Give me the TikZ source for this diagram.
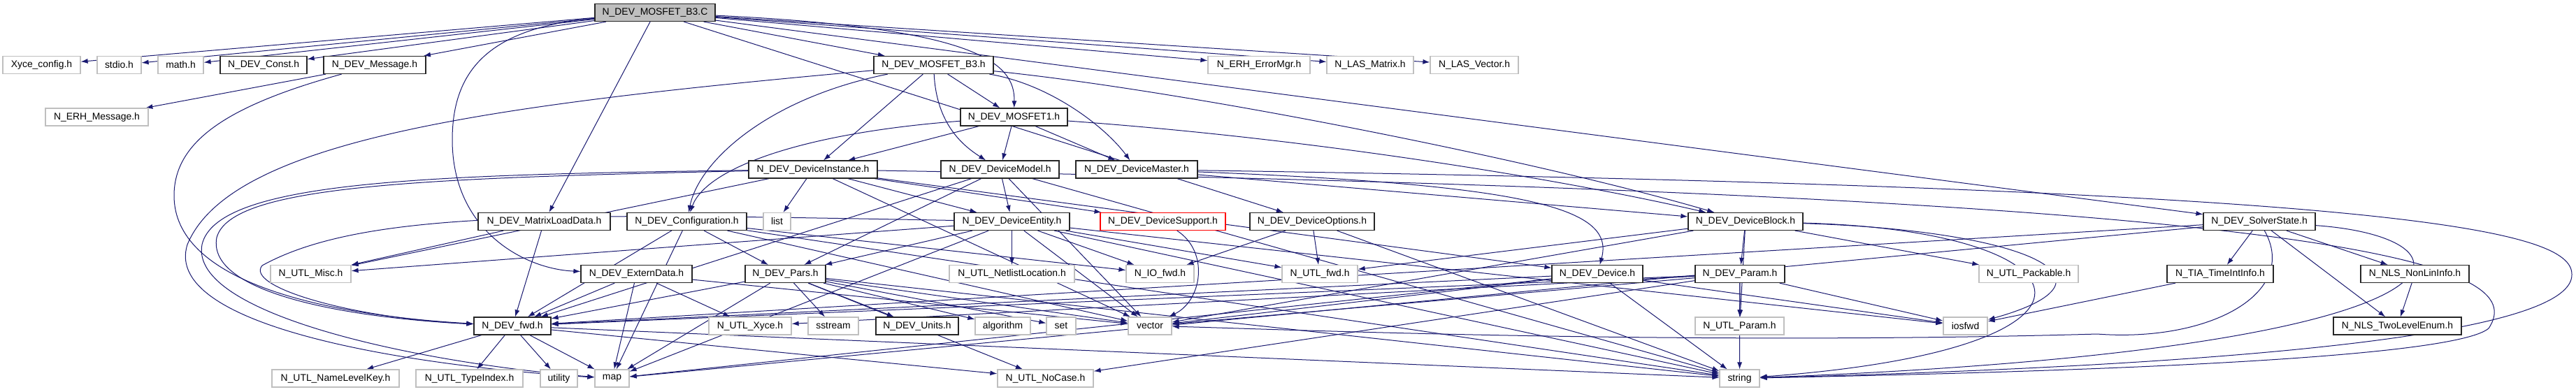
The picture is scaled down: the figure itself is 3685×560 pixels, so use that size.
\documentclass[tikz,border=0pt]{standalone}
\usepackage{fontspec}
\setmainfont{Liberation Sans}
\usetikzlibrary{arrows.meta,backgrounds}
\definecolor{edgeblue}{HTML}{191970}
\definecolor{softgray}{HTML}{BFBFBF}

\begin{document}
\begin{tikzpicture}[
  x=1pt,
  y=-1pt,
  hdr/.style={draw=black!85,line width=1.2pt,fill=white,minimum height=25pt,inner sep=0pt,font=\fontsize{13.9}{16}\selectfont},
  ext/.style={hdr,draw=softgray},
  root/.style={hdr,fill=softgray},
  miss/.style={hdr,draw=red},
  dep/.style={draw=edgeblue,line width=1pt,-{Latex[length=10pt,width=7pt]}}
]
\useasboundingbox (0,0) rectangle (3685,560);
\node[root,minimum width=172pt] (b3c) at (937,18) {N\_DEV\_MOSFET\_B3.C};
\node[ext,minimum width=111pt] (xyce) at (59.5,93) {Xyce\_config.h};
\node[ext,minimum width=63pt] (stdio) at (170.5,93) {stdio.h};
\node[ext,minimum width=65pt] (math) at (258.5,93) {math.h};
\node[hdr,minimum width=124pt] (const) at (377,93) {N\_DEV\_Const.h};
\node[hdr,minimum width=146pt] (msg) at (536,93) {N\_DEV\_Message.h};
\node[hdr,minimum width=171pt] (b3h) at (1335.5,93) {N\_DEV\_MOSFET\_B3.h};
\node[ext,minimum width=146pt] (erherr) at (1801,93) {N\_ERH\_ErrorMgr.h};
\node[ext,minimum width=124pt] (lasmat) at (1960,93) {N\_LAS\_Matrix.h};
\node[ext,minimum width=126pt] (lasvec) at (2109,93) {N\_LAS\_Vector.h};
\node[ext,minimum width=147pt] (erhmsg) at (138.5,167.5) {N\_ERH\_Message.h};
\node[hdr,minimum width=153pt] (mos1) at (1450.5,167.5) {N\_DEV\_MOSFET1.h};
\node[hdr,minimum width=184pt] (devinst) at (1163,242.5) {N\_DEV\_DeviceInstance.h};
\node[hdr,minimum width=169pt] (devmodel) at (1430.5,242.5) {N\_DEV\_DeviceModel.h};
\node[hdr,minimum width=174pt] (devmaster) at (1626,242.5) {N\_DEV\_DeviceMaster.h};
\node[hdr,minimum width=189pt] (mld) at (778.5,317) {N\_DEV\_MatrixLoadData.h};
\node[hdr,minimum width=171pt] (config) at (982.5,317) {N\_DEV\_Configuration.h};
\node[ext,minimum width=39pt] (list) at (1111.5,317) {list};
\node[hdr,minimum width=165pt] (entity) at (1447.5,317) {N\_DEV\_DeviceEntity.h};
\node[miss,minimum width=179pt] (support) at (1663.5,317) {N\_DEV\_DeviceSupport.h};
\node[hdr,minimum width=178pt] (options) at (1877,317) {N\_DEV\_DeviceOptions.h};
\node[hdr,minimum width=164pt] (block) at (2497,317) {N\_DEV\_DeviceBlock.h};
\node[hdr,minimum width=160pt] (solver) at (3232,317) {N\_DEV\_SolverState.h};
\node[ext,minimum width=115pt] (misc) at (444.5,392) {N\_UTL\_Misc.h};
\node[hdr,minimum width=159pt] (extern) at (910.5,392) {N\_DEV\_ExternData.h};
\node[hdr,minimum width=115pt] (pars) at (1123.5,392) {N\_DEV\_Pars.h};
\node[ext,minimum width=179pt] (netloc) at (1447.5,392) {N\_UTL\_NetlistLocation.h};
\node[ext,minimum width=97pt] (iofwd) at (1659.5,392) {N\_IO\_fwd.h};
\node[ext,minimum width=108pt] (utlfwd) at (1888,392) {N\_UTL\_fwd.h};
\node[hdr,minimum width=130pt] (device) at (2285,392) {N\_DEV\_Device.h};
\node[hdr,minimum width=128pt] (param) at (2489,392) {N\_DEV\_Param.h};
\node[ext,minimum width=142pt] (packable) at (2902,392) {N\_UTL\_Packable.h};
\node[hdr,minimum width=152pt] (tia) at (3176,392) {N\_TIA\_TimeIntInfo.h};
\node[hdr,minimum width=155pt] (nonlin) at (3454.5,392) {N\_NLS\_NonLinInfo.h};
\node[hdr,minimum width=110pt] (devfwd) at (733,466.5) {N\_DEV\_fwd.h};
\node[ext,minimum width=118pt] (xyceutl) at (1073,466.5) {N\_UTL\_Xyce.h};
\node[ext,minimum width=72pt] (sstream) at (1192,466.5) {sstream};
\node[hdr,minimum width=118pt] (units) at (1312,466.5) {N\_DEV\_Units.h};
\node[ext,minimum width=79pt] (algorithm) at (1434.5,466.5) {algorithm};
\node[ext,minimum width=42pt] (set) at (1518,466.5) {set};
\node[ext,minimum width=62pt] (vector) at (1645,466.5) {vector};
\node[ext,minimum width=127pt] (utlparam) at (2488.5,466.5) {N\_UTL\_Param.h};
\node[ext,minimum width=63pt] (iosfwd) at (2811.5,466.5) {iosfwd};
\node[hdr,minimum width=183pt] (twolevel) at (3429.5,466.5) {N\_NLS\_TwoLevelEnum.h};
\node[ext,minimum width=182pt] (nlk) at (480,541.5) {N\_UTL\_NameLevelKey.h};
\node[ext,minimum width=153pt] (typeidx) at (671.5,541.5) {N\_UTL\_TypeIndex.h};
\node[ext,minimum width=53pt] (utility) at (799.5,541.5) {utility};
\node[ext,minimum width=49pt] (map) at (875.5,541.5) {map};
\node[ext,minimum width=137pt] (nocase) at (1495.5,541.5) {N\_UTL\_NoCase.h};
\node[ext,minimum width=57pt] (string) at (2488.5,541.5) {string};
\begin{scope}[on background layer]
\fill[white] (0,0) rectangle (3685,560);
\foreach \a/\b in {b3c/xyce,b3c/stdio,b3c/math,b3c/const,b3c/msg,b3c/b3h,b3c/erherr,b3c/lasmat,b3c/lasvec,b3c/mld,b3c/options,b3c/solver,
  msg/erhmsg,b3h/devinst,b3h/mos1,mos1/devinst,mos1/devmodel,mos1/devmaster,
  devinst/list,devinst/misc,devinst/entity,devinst/support,devinst/vector,devinst/device,
  devmodel/entity,devmodel/pars,devmodel/devfwd,devmodel/vector,devmodel/string,
  devmaster/block,mld/misc,mld/devfwd,
  config/devfwd,config/pars,config/iofwd,config/map,config/vector,config/string,
  entity/netloc,entity/iofwd,entity/vector,entity/utlfwd,entity/pars,entity/misc,entity/string,entity/iosfwd,entity/map,
  options/utlfwd,options/string,options/iofwd,
  block/param,block/packable,block/utlparam,block/vector,block/utlfwd,
  solver/tia,solver/nonlin,solver/twolevel,solver/devfwd,solver/map,
  tia/iosfwd,nonlin/twolevel,
  extern/devfwd,extern/map,extern/xyceutl,extern/vector,
  pars/devfwd,pars/units,pars/sstream,pars/algorithm,pars/set,pars/vector,pars/string,pars/map,pars/nocase,
  device/vector,device/string,device/map,device/devfwd,device/iosfwd,
  param/utlparam,param/string,param/vector,param/iosfwd,param/devfwd,param/nocase,param/xyceutl,
  devfwd/nlk,devfwd/typeidx,devfwd/utility,devfwd/map,devfwd/nocase,devfwd/string}
  \draw[dep] (\a) -- (\b);
\draw[dep] (b3c) .. controls (1400,40) and (1452,90) .. (mos1);
\draw[dep] (b3c) .. controls (700,40) and (647,100) .. (647,200) .. controls (647,330) and (750,385) .. (extern);
\draw[dep] (msg) .. controls (330,150) and (249,200) .. (249,280) .. controls (249,400) and (450,450) .. (devfwd);
\draw[dep] (b3h) .. controls (700,150) and (330,200) .. (268,350) .. controls (230,470) and (600,525) .. (map);
\draw[dep] (devinst) .. controls (600,250) and (310,260) .. (289,350) .. controls (270,450) and (600,520) .. (map);
\draw[dep] (devinst) .. controls (600,255) and (330,265) .. (310,340) .. controls (295,420) and (500,455) .. (devfwd);
\draw[dep] (entity) .. controls (800,305) and (520,300) .. (375,380) .. controls (350,410) and (500,455) .. (devfwd);
\draw[dep] (b3h) .. controls (1100,140) and (1000,230) .. (config);
\draw[dep] (mos1) .. controls (1150,190) and (1010,240) .. (config);
\draw[dep] (b3h) .. controls (1340,180) and (1380,210) .. (devmodel);
\draw[dep] (b3h) .. controls (1500,120) and (1580,180) .. (devmaster);
\draw[dep] (b3h) .. controls (1700,130) and (2200,230) .. (block);
\draw[dep] (mos1) .. controls (1900,200) and (2250,260) .. (block);
\draw[dep] (devmaster) .. controls (2200,265) and (2310,300) .. (device);
\draw[dep] (support) .. controls (1730,360) and (1720,430) .. (vector);
\draw[dep] (block) .. controls (2900,330) and (3050,400) .. (iosfwd);
\draw[dep] (block) .. controls (3000,330) and (3060,500) .. (string);
\draw[dep] (solver) .. controls (3560,340) and (3580,500) .. (string);
\draw[dep] (devinst) .. controls (3400,280) and (3620,380) .. (3560,470) .. controls (3500,520) and (2800,535) .. (string);
\draw[dep] (devmaster) .. controls (3450,270) and (3680,330) .. (3679,393) .. controls (3680,470) and (3300,520) .. (string);
\draw[dep] (solver) .. controls (3290,420) and (3160,490) .. (3000,478) .. controls (2400,495) and (1800,470) .. (vector);
\end{scope}
\end{tikzpicture}
\end{document}
